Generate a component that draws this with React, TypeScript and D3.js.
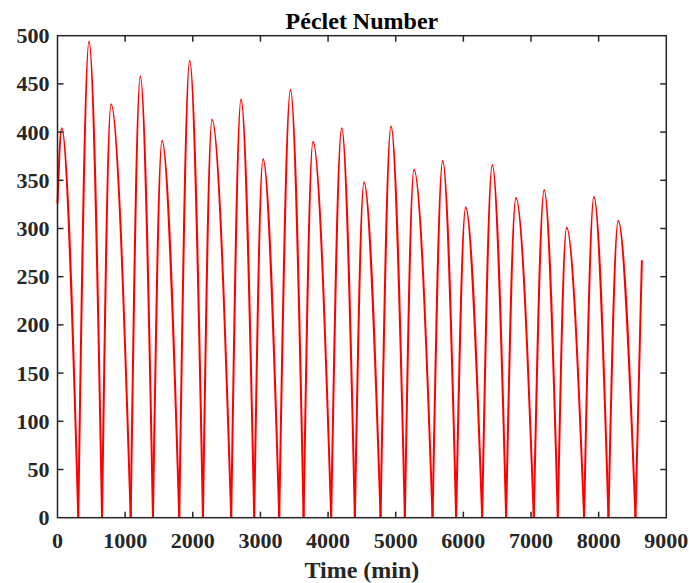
import { useEffect, useRef } from 'react';
import * as d3 from 'd3';

const WIDTH = 689;
const HEIGHT = 583;

// first and last samples of the record (min, Pe)
const startPoint = { t: 0, v: 326 };
const endPoint = { t: 8639, v: 267 };

// crest of each pulse
const peakTimes = [62, 466, 791, 1224, 1545, 1954, 2284, 2713, 3038, 3444, 3777, 4201,
  4531, 4930, 5270, 5694, 6034, 6427, 6777, 7195, 7526, 7930, 8289];
const peakValues = [404, 494, 429, 458, 391, 474, 413, 434, 372, 444, 390, 404,
  348, 406, 361, 370, 322, 366, 332, 340, 301, 333, 308];

// times where the Péclet number drops to zero
const zeroTimes = [307, 658, 1082, 1411, 1800, 2150, 2568, 2908, 3278, 3638, 4046, 4396,
  4776, 5135, 5545, 5893, 6278, 6632, 7041, 7396, 7785, 8145, 8544];

const xTicks = [0, 1000, 2000, 3000, 4000, 5000, 6000, 7000, 8000, 9000];
const yTicks = [0, 50, 100, 150, 200, 250, 300, 350, 400, 450, 500];

export default function App() {
  const svgRef = useRef(null);

  useEffect(() => {
    if (!svgRef.current) return;
    const margin = { top: 35.7, right: 22.7, bottom: 65.3, left: 57.5 };
    const innerW = WIDTH - margin.left - margin.right;
    const innerH = HEIGHT - margin.top - margin.bottom;
    const axisColor = '#262626';
    const font = '"Liberation Serif", "Times New Roman", serif';

    const svg = d3.select(svgRef.current);
    svg.selectAll('*').remove();
    svg.attr('width', WIDTH).attr('height', HEIGHT);
    svg.append('rect').attr('width', WIDTH).attr('height', HEIGHT).attr('fill', '#fff');

    const g = svg.append('g').attr('transform', `translate(${margin.left},${margin.top})`);

    const x = d3.scaleLinear().domain([0, 9000]).range([0, innerW]);
    const y = d3.scaleLinear().domain([0, 500]).range([innerH, 0]);

    // one segment per pulse, so the troughs stay sharp
    const segments = peakTimes.map((pt, i) => [
      i === 0 ? startPoint : { t: zeroTimes[i - 1], v: 0 },
      { t: pt, v: peakValues[i] },
      { t: zeroTimes[i], v: 0 },
    ]);
    segments.push([{ t: zeroTimes[zeroTimes.length - 1], v: 0 }, endPoint]);

    const line = d3.line()
      .x(d => x(d.t))
      .y(d => y(d.v))
      .curve(d3.curveMonotoneX);

    g.append('g')
      .selectAll('path')
      .data(segments)
      .join('path')
      .attr('d', d => line(d))
      .attr('fill', 'none')
      .attr('stroke', '#ff0000')
      .attr('stroke-width', 2)
      .attr('stroke-linejoin', 'round');

    // box
    g.append('rect')
      .attr('width', innerW)
      .attr('height', innerH)
      .attr('fill', 'none')
      .attr('stroke', axisColor)
      .attr('stroke-width', 1.5);

    const tickLen = 6;
    const tickLines = (data, x1, x2, y1, y2) => g.append('g')
      .selectAll('line')
      .data(data)
      .join('line')
      .attr('x1', x1).attr('x2', x2)
      .attr('y1', y1).attr('y2', y2)
      .attr('stroke', axisColor).attr('stroke-width', 1.5);

    const xi = xTicks.slice(1, -1);
    const yi = yTicks.slice(1, -1);
    tickLines(xi, d => x(d), d => x(d), innerH, innerH - tickLen);
    tickLines(xi, d => x(d), d => x(d), 0, tickLen);
    tickLines(yi, 0, tickLen, d => y(d), d => y(d));
    tickLines(yi, innerW, innerW - tickLen, d => y(d), d => y(d));

    // tick labels
    g.append('g')
      .selectAll('text')
      .data(xTicks)
      .join('text')
      .attr('x', d => x(d))
      .attr('y', innerH + 30)
      .attr('text-anchor', 'middle')
      .attr('font-family', font)
      .attr('font-weight', 'bold')
      .attr('font-size', '22px')
      .attr('fill', axisColor)
      .text(d => d);
    g.append('g')
      .selectAll('text')
      .data(yTicks)
      .join('text')
      .attr('x', -8)
      .attr('y', d => y(d))
      .attr('dy', '0.34em')
      .attr('text-anchor', 'end')
      .attr('font-family', font)
      .attr('font-weight', 'bold')
      .attr('font-size', '22px')
      .attr('fill', axisColor)
      .text(d => d);

    // title and axis label
    g.append('text')
      .attr('x', innerW / 2)
      .attr('y', -7)
      .attr('text-anchor', 'middle')
      .attr('font-family', font)
      .attr('font-weight', 'bold')
      .attr('font-size', '24px')
      .attr('fill', '#000')
      .text('Péclet Number');
    g.append('text')
      .attr('x', innerW / 2)
      .attr('y', innerH + 60)
      .attr('text-anchor', 'middle')
      .attr('font-family', font)
      .attr('font-weight', 'bold')
      .attr('font-size', '24px')
      .attr('fill', axisColor)
      .text('Time (min)');
  }, []);

  return (
    <div style={{ position: 'absolute', left: 0, top: 0 }}>
      <svg ref={svgRef} style={{ display: 'block' }}></svg>
    </div>
  );
}
